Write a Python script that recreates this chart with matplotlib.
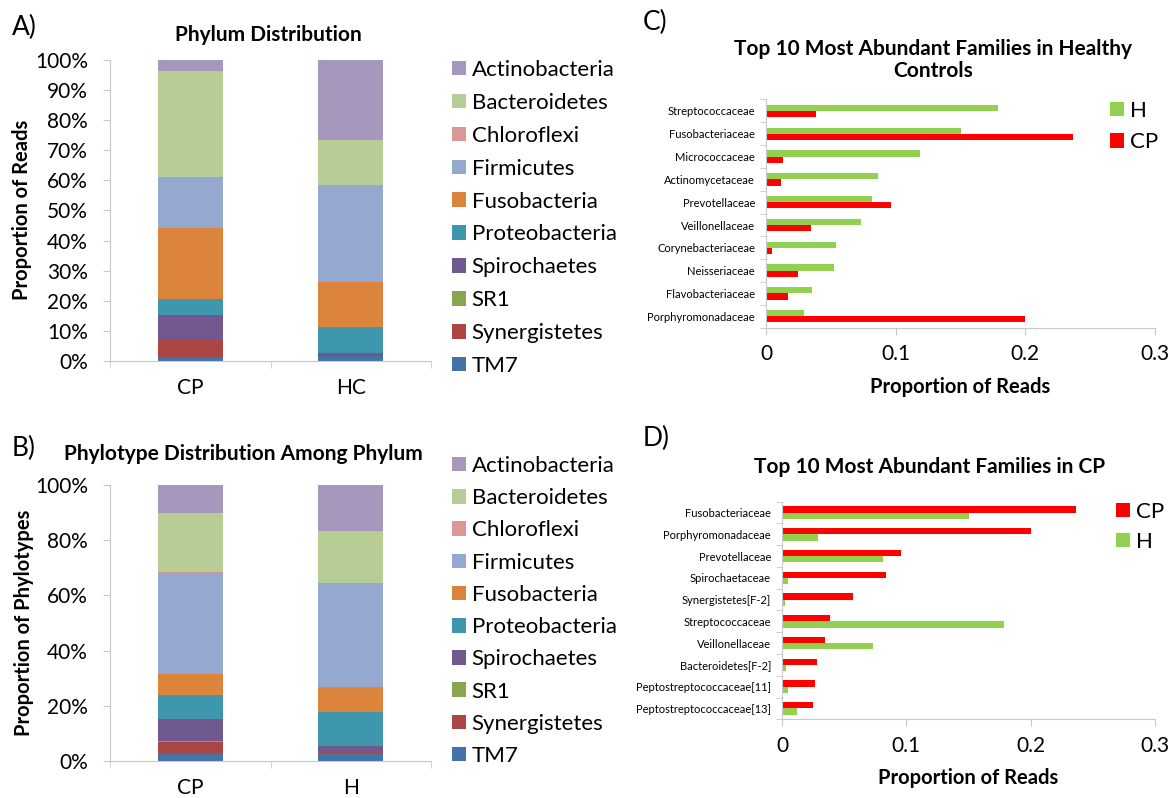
import matplotlib
matplotlib.use('Agg')
import matplotlib.pyplot as plt
import numpy as np

plt.rcParams['font.family'] = ['Lato', 'DejaVu Sans']

W, H = 1171, 798

# stacking order, bottom to top
phyla = ['TM7', 'Synergistetes', 'SR1', 'Spirochaetes', 'Proteobacteria',
         'Fusobacteria', 'Firmicutes', 'Chloroflexi', 'Bacteroidetes', 'Actinobacteria']
phylum_colors = ['#4473a8', '#aa4644', '#88a54f', '#71598f', '#3f97ae',
                 '#dc843c', '#94a8d0', '#d99795', '#b8cd96', '#a698bd']

# A) share of reads (%)
reads_groups = ['CP', 'HC']
reads_cp = [0.9, 6.1, 0.0, 8.3, 5.3, 23.7, 16.7, 0.2, 35.3, 3.5]
reads_hc = [1.6, 0.5, 0.0, 0.4, 8.7, 15.2, 31.9, 0.1, 15.1, 26.5]

# B) share of phylotypes (%)
phylo_groups = ['CP', 'H']
phylo_cp = [2.5, 4.3, 0.3, 8.0, 8.8, 7.5, 36.6, 0.6, 21.4, 10.0]
phylo_h = [2.8, 0.7, 0.2, 1.7, 12.2, 9.2, 37.8, 0.0, 18.7, 16.7]

# C) top families in healthy controls
c_families = ['Streptococcaceae', 'Fusobacteriaceae', 'Micrococcaceae', 'Actinomycetaceae',
              'Prevotellaceae', 'Veillonellaceae', 'Corynebacteriaceae', 'Neisseriaceae',
              'Flavobacteriaceae', 'Porphyromonadaceae']
c_h = [0.179, 0.150, 0.1185, 0.0866, 0.0817, 0.0733, 0.054, 0.0522, 0.0352, 0.0293]
c_cp = [0.0388, 0.2365, 0.0134, 0.0116, 0.0961, 0.0347, 0.0049, 0.0247, 0.0167, 0.200]

# D) top families in CP
d_families = ['Fusobacteriaceae', 'Porphyromonadaceae', 'Prevotellaceae', 'Spirochaetaceae',
              'Synergistetes[F-2]', 'Streptococcaceae', 'Veillonellaceae', 'Bacteroidetes[F-2]',
              'Peptostreptococcaceae[11]', 'Peptostreptococcaceae[13]']
d_cp = [0.2367, 0.200, 0.0961, 0.0835, 0.0572, 0.0387, 0.0344, 0.0282, 0.0268, 0.0247]
d_h = [0.150, 0.0293, 0.0816, 0.0051, 0.0027, 0.1788, 0.0733, 0.0035, 0.0048, 0.0121]

GREEN = '#92d050'
RED = '#ff0000'
SPINE = '#c8c8c8'


def rect(left, top, right, bottom):
    return [left / W, 1 - bottom / H, (right - left) / W, (bottom - top) / H]


def px(x, y):
    return x / W, 1 - y / H


def style_spines(ax):
    for s in ['top', 'right']:
        ax.spines[s].set_visible(False)
    for s in ['left', 'bottom']:
        ax.spines[s].set_color(SPINE)


def stacked(ax, groups, cols, yticks):
    x = np.arange(len(groups))
    bottom = np.zeros(len(groups))
    for i, name in enumerate(phyla):
        vals = np.array([c[i] for c in cols])
        ax.bar(x, vals, 0.405, bottom=bottom, color=phylum_colors[i], label=name)
        bottom += vals
    ax.set_xlim(-0.5, 1.5)
    ax.set_ylim(0, 100)
    ax.set_xticks(x, groups)
    ax.set_xticks([-0.5, 0.5, 1.5], minor=True)
    ax.tick_params(axis='x', which='major', length=0, pad=12, labelsize=15)
    ax.tick_params(axis='x', which='minor', length=5, color=SPINE)
    ax.set_yticks(yticks, [f'{t}%' for t in yticks])
    ax.tick_params(axis='y', length=5, color=SPINE, pad=11, labelsize=15)
    style_spines(ax)
    handles, labels = ax.get_legend_handles_labels()
    return handles[::-1], labels[::-1]


def family_bars(ax, names, first, second, colors, labels, h):
    y = np.arange(len(names))
    ax.barh(y - h / 2, first, h, color=colors[0], label=labels[0])
    ax.barh(y + h / 2, second, h, color=colors[1], label=labels[1])
    ax.set_ylim(len(names) - 0.5, -0.5)
    ax.set_xlim(0, 0.3)
    ax.set_yticks(y, names)
    ax.set_yticks(np.arange(-0.5, len(names)), minor=True)
    ax.tick_params(axis='y', which='major', length=0, pad=8, labelsize=8)
    ax.tick_params(axis='y', which='minor', length=4, color=SPINE)
    ax.set_xticks([0, 0.1, 0.2, 0.3], ['0', '0.1', '0.2', '0.3'])
    ax.tick_params(axis='x', length=5, color=SPINE, pad=7, labelsize=15)
    ax.set_xlabel('Proportion of Reads', fontsize=14.5, fontweight='bold', labelpad=9)
    style_spines(ax)
    return ax.get_legend_handles_labels()


fig = plt.figure(figsize=(W / 100, H / 100), dpi=100)

leg_kw = dict(loc='upper left', frameon=False, fontsize=16, handlelength=0.63,
              handleheight=0.63, handletextpad=0.25, borderpad=0, borderaxespad=0)

# ---- A) Phylum distribution
axA = fig.add_axes(rect(110, 60, 431, 361))
hA, lA = stacked(axA, reads_groups, [reads_cp, reads_hc], list(range(0, 101, 10)))
fig.legend(hA, lA, bbox_to_anchor=px(452, 60), labelspacing=0.58, **leg_kw)
fig.text(*px(22, 210), 'Proportion of Reads', rotation=90, ha='center', va='center',
         fontsize=14.5, fontweight='bold')
fig.text(*px(268, 35), 'Phylum Distribution', ha='center', va='center',
         fontsize=15, fontweight='bold')
fig.text(*px(12, 27), 'A)', ha='left', va='center', fontsize=19)

# ---- B) Phylotype distribution
axB = fig.add_axes(rect(110, 485, 431, 761))
hB, lB = stacked(axB, phylo_groups, [phylo_cp, phylo_h], list(range(0, 101, 20)))
fig.legend(hB, lB, bbox_to_anchor=px(452, 456), labelspacing=0.55, **leg_kw)
fig.text(*px(24, 623), 'Proportion of Phylotypes', rotation=90, ha='center', va='center',
         fontsize=14.5, fontweight='bold')
fig.text(*px(243, 454), 'Phylotype Distribution Among Phylum', ha='center', va='center',
         fontsize=15, fontweight='bold')
fig.text(*px(12, 448), 'B)', ha='left', va='center', fontsize=19)

# ---- C) Top families in healthy controls
axC = fig.add_axes(rect(766, 99.5, 1155, 327.7))
hC, lC = family_bars(axC, c_families, c_h, c_cp, [GREEN, RED], ['H', 'CP'], 0.27)
fig.legend(hC, lC, bbox_to_anchor=px(1110, 101), labelspacing=0.5, **leg_kw)
fig.text(*px(933, 60), 'Top 10 Most Abundant Families in Healthy\nControls', ha='center',
         va='center', fontsize=15, fontweight='bold', linespacing=1.1)
fig.text(*px(643, 22), 'C)', ha='left', va='center', fontsize=19)

# ---- D) Top families in CP
axD = fig.add_axes(rect(782, 501.7, 1155, 719.3))
hD, lD = family_bars(axD, d_families, d_cp, d_h, [RED, GREEN], ['CP', 'H'], 0.29)
fig.legend(hD, lD, bbox_to_anchor=px(1116, 502), labelspacing=0.45, **leg_kw)
fig.text(*px(930, 467), 'Top 10 Most Abundant Families in CP', ha='center', va='center',
         fontsize=15, fontweight='bold')
fig.text(*px(643, 438), 'D)', ha='left', va='center', fontsize=19)

fig.savefig('out.png', dpi=100)
